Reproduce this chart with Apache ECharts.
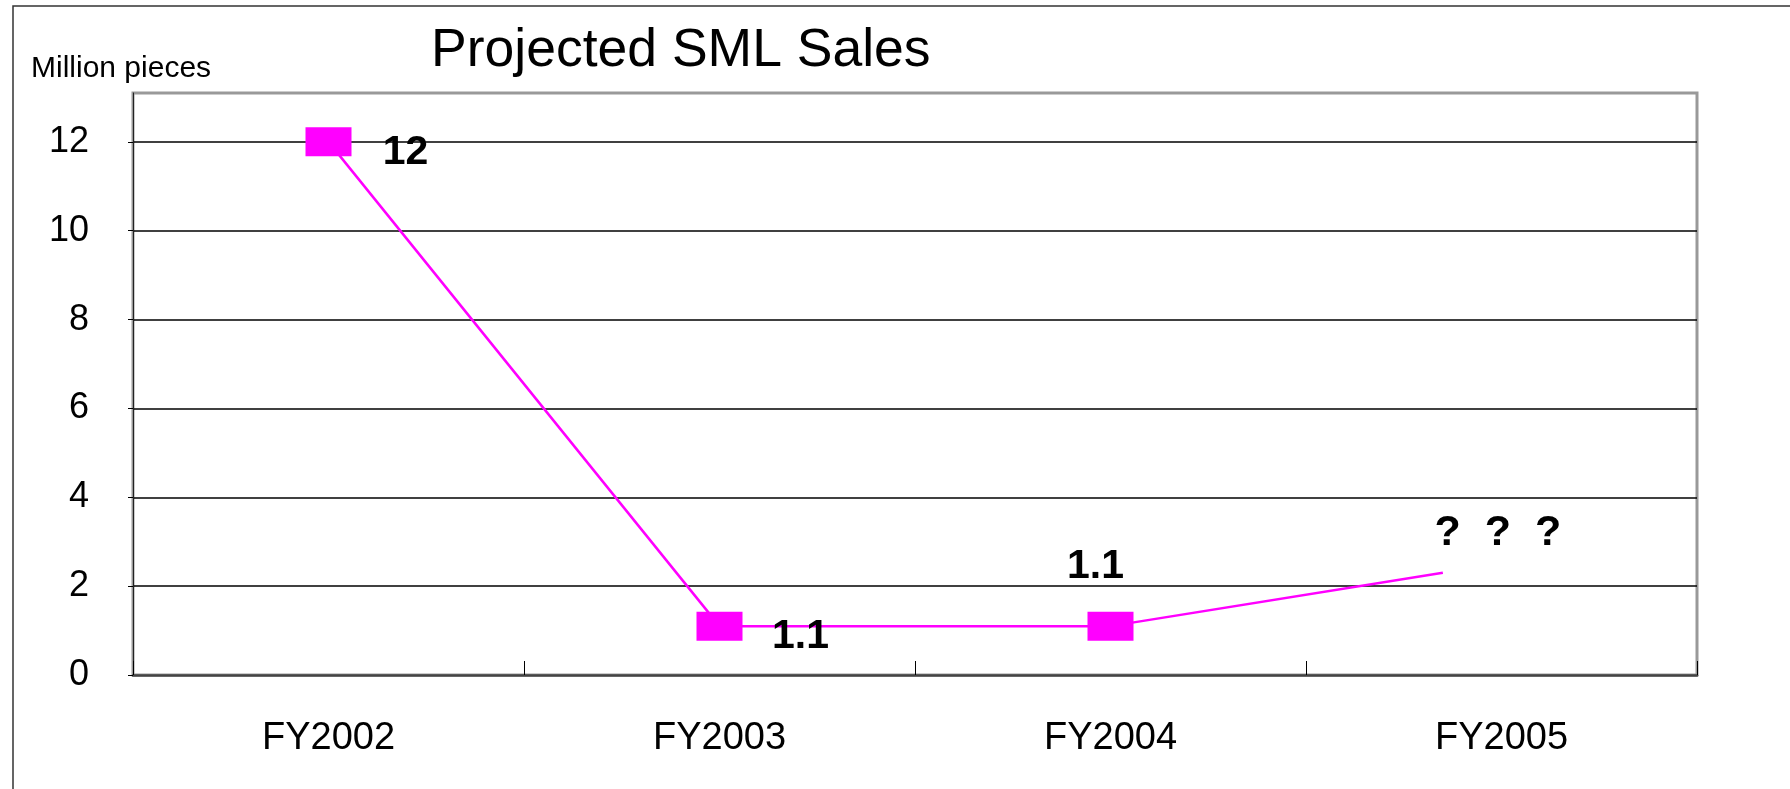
<!DOCTYPE html>
<html>
<head>
<meta charset="utf-8">
<title>Projected SML Sales</title>
<script src="https://cdn.jsdelivr.net/npm/echarts@6/dist/echarts.min.js"></script>
<style>
html,body{margin:0;padding:0;background:#fff;}
#chart{width:1790px;height:789px;}
</style>
</head>
<body>
<div id="chart"></div>
<script>
// 数据
var categories=["FY2002","FY2003","FY2004","FY2005"];
var salesValues=[12,1.1,1.1];
var salesLabels=["12","1.1","1.1"];
// FY2005 projection line ends before the category centre
var tailPoint=[2.85,2.3];
var tailLabel="?  ?  ?";
var yTicks=[0,2,4,6,8,10,12];

var fontName="'Liberation Sans', Arial, sans-serif";

// label offsets relative to each point (centre of text)
var labelOffsets=[[77,11],[81,11],[-15,-59]];

var seriesData=[];
for(var i=0,len=salesValues.length;i<len;i++){
	seriesData.push({
		value:[i,salesValues[i]],
		label:{
			show:true,
			position:"inside",
			offset:labelOffsets[i],
			formatter:salesLabels[i]
		}
	});
}
seriesData.push({
	value:tailPoint,
	symbolSize:[1,1],
	itemStyle:{color:"rgba(0,0,0,0)"},
	label:{
		show:true,
		position:"inside",
		offset:[55,-40],
		fontSize:43,
		formatter:tailLabel
	}
});

var chart=echarts.init(document.getElementById("chart"));

var option={
	backgroundColor:"#fff",
	animation:false,
	textStyle:{fontFamily:fontName},
	title:[
		{
			text:"Projected SML Sales",
			left:431,
			top:24,
			padding:0,
			textStyle:{fontSize:53.5,fontWeight:"normal",color:"#000",fontFamily:fontName}
		},
		{
			text:"Million pieces",
			left:31,
			top:54,
			padding:0,
			textStyle:{fontSize:30,fontWeight:"normal",color:"#000",fontFamily:fontName}
		}
	],
	graphic:[
		{
			type:"polyline",
			shape:{points:[[13,789],[13,6],[1790,6]]},
			style:{stroke:"#333",lineWidth:1.5,fill:null}
		}
	],
	grid:{
		left:133,
		right:93,
		top:93,
		bottom:114,
		show:true,
		borderColor:"#999",
		borderWidth:3,
		backgroundColor:"#fff"
	},
	xAxis:[
		{
			type:"category",
			data:categories,
			boundaryGap:true,
			axisLine:{lineStyle:{color:"#444",width:2.5}},
			axisTick:{show:true,inside:true,length:14,lineStyle:{color:"#000",width:1}},
			axisLabel:{fontSize:38,color:"#000",margin:45,fontFamily:fontName},
			splitLine:{show:false}
		},
		{
			type:"value",
			show:false,
			min:-0.5,
			max:3.5
		}
	],
	yAxis:{
		type:"value",
		min:0,
		max:13.1,
		interval:2,
		axisLine:{show:true,onZero:false,lineStyle:{color:"#222",width:1}},
		axisTick:{show:true,length:5,lineStyle:{color:"#000",width:1}},
		axisLabel:{
			fontSize:36,
			color:"#000",
			margin:44,
			padding:[4,0,0,0],
			fontFamily:fontName,
			showMaxLabel:false,
			formatter:function(v){
				return yTicks.indexOf(v)>=0?String(v):"";
			}
		},
		splitLine:{
			show:true,
			showMinLine:false,
			showMaxLine:false,
			lineStyle:{color:"#000",width:1.5}
		}
	},
	series:[
		{
			name:"SML Sales",
			type:"line",
			xAxisIndex:1,
			yAxisIndex:0,
			data:seriesData,
			symbol:"rect",
			symbolSize:[46,29],
			color:"#ff00ff",
			itemStyle:{color:"#ff00ff"},
			lineStyle:{color:"#ff00ff",width:2.5},
			label:{
				color:"#000",
				fontSize:41,
				fontWeight:"bold",
				fontFamily:fontName
			},
			z:5
		}
	]
};

chart.setOption(option);
</script>
</body>
</html>
